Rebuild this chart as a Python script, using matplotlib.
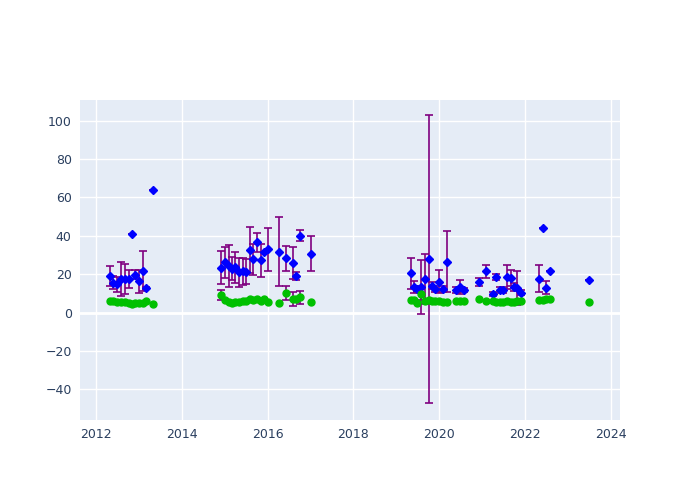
import numpy as np
import matplotlib.pyplot as plt

# observation epochs (decimal years)
years = [
    2012.34, 2012.40, 2012.50, 2012.58, 2012.68, 2012.76, 2012.83, 2012.92,
    2013.01, 2013.10, 2013.17, 2013.34,
    2014.92, 2015.01, 2015.09, 2015.17, 2015.25, 2015.34, 2015.42, 2015.50,
    2015.59, 2015.66, 2015.75, 2015.84, 2015.92, 2016.01, 2016.26, 2016.42,
    2016.59, 2016.67, 2016.75, 2017.00,
    2019.33, 2019.41, 2019.49, 2019.58, 2019.66, 2019.75, 2019.84, 2019.91,
    2020.00, 2020.08, 2020.17, 2020.40, 2020.49, 2020.57,
    2020.92, 2021.08, 2021.24, 2021.32, 2021.41, 2021.49, 2021.58, 2021.66,
    2021.74, 2021.82, 2021.91, 2022.32, 2022.41, 2022.49, 2022.57, 2023.49,
]

# blue series (diamonds) and its error
blue_vals = [
    19.0, 15.5, 14.7, 17.4, 17.4, 17.4, 40.7, 19.7, 16.4, 21.5, 12.8, 63.8,
    23.3, 26.1, 24.4, 22.7, 23.5, 20.9, 21.4, 21.3, 32.7, 27.7, 36.6, 27.2,
    31.3, 32.9, 31.7, 28.2, 25.9, 19.0, 40.0, 30.6,
    20.4, 13.3, 12.1, 13.3, 17.3, 27.7, 14.0, 12.2, 16.0, 12.4, 26.5, 11.7,
    13.3, 11.7,
    15.9, 21.4, 9.8, 18.3, 11.7, 11.6, 18.5, 18.0, 13.4, 12.8, 10.3, 17.6,
    44.0, 12.9, 21.6, 16.9,
]
blue_errs = [
    5.0, 3.5, 4.0, 9.0, 8.0, 4.5, 0.0, 2.5, 6.0, 10.5, 0.5, 0.0,
    8.5, 8.0, 11.0, 6.0, 8.0, 7.5, 7.0, 6.5, 12.0, 8.0, 5.0, 8.5,
    0.0, 11.2, 17.9, 6.7, 8.3, 2.0, 3.0, 9.2,
    8.2, 3.0, 1.5, 14.0, 13.0, 75.0, 2.0, 1.5, 6.0, 1.5, 15.7, 1.7,
    3.5, 1.0,
    2.0, 3.6, 1.0, 1.5, 1.7, 1.5, 6.2, 4.2, 2.0, 8.8, 1.3, 7.0,
    0.0, 3.4, 0.0, 0.0,
]

# green series (circles) and its error (nan = no bar drawn)
nan = np.nan
green_vals = [
    6.0, 5.8, 5.5, 5.6, 5.3, 5.0, 4.5, 5.0, 5.2, 4.8, 5.8, 4.4,
    9.1, 6.5, 5.5, 5.2, 5.4, 5.6, 5.8, 6.2, 6.8, 6.5, 6.8, 6.0,
    7.0, 5.6, 5.1, 10.0, 6.9, 6.9, 7.9, 5.6,
    6.3, 6.3, 5.1, 9.5, 5.8, 6.5, 6.0, 6.1, 6.2, 5.6, 5.5, 6.1,
    6.1, 6.1,
    7.0, 6.1, 6.0, 5.6, 5.6, 5.6, 5.8, 5.6, 5.6, 5.8, 6.0, 6.7,
    6.7, 7.0, 7.2, 5.3,
]
green_errs = [
    nan, nan, nan, nan, nan, nan, nan, nan, nan, nan, nan, nan,
    2.4, nan, nan, nan, nan, nan, nan, nan, nan, nan, nan, nan,
    nan, nan, nan, 3.6, 3.7, 1.0, 3.5, nan,
    nan, nan, nan, 3.0, nan, nan, nan, nan, nan, nan, nan, nan,
    nan, nan,
    nan, nan, nan, nan, nan, nan, nan, nan, nan, nan, nan, nan,
    nan, nan, nan, nan,
]

x_ticks = [2012, 2014, 2016, 2018, 2020, 2022, 2024]
y_ticks = [-40, -20, 0, 20, 40, 60, 80, 100]

fig = plt.figure(figsize=(7, 5), dpi=100)
ax = fig.add_axes([80 / 700, 80 / 500, 540 / 700, 320 / 500])
ax.set_facecolor("#E5ECF6")

ax.errorbar(years, blue_vals, yerr=blue_errs, fmt="D", color="blue",
            markersize=4.2, ecolor="purple", elinewidth=1.2, capsize=3,
            capthick=1.2, zorder=3)
ax.errorbar(years, green_vals, yerr=green_errs, fmt="o", color="#00C000",
            markersize=5, ecolor="purple", elinewidth=1.2, capsize=3,
            capthick=1.2, zorder=3)

ax.set_xlim(2011.63, 2024.21)
ax.set_ylim(-56, 110.7)
ax.set_xticks(x_ticks)
ax.set_yticks(y_ticks)
ax.set_yticklabels([f"{v}".replace("-", "\u2212") for v in y_ticks])
ax.grid(True, color="white", lw=1)
ax.axhline(0, color="white", lw=2, zorder=1)
ax.set_axisbelow(True)
for s in ax.spines.values():
    s.set_visible(False)
ax.tick_params(length=0, labelsize=9, colors="#2a3f5f", pad=6)

fig.savefig("out.png", dpi=100)
